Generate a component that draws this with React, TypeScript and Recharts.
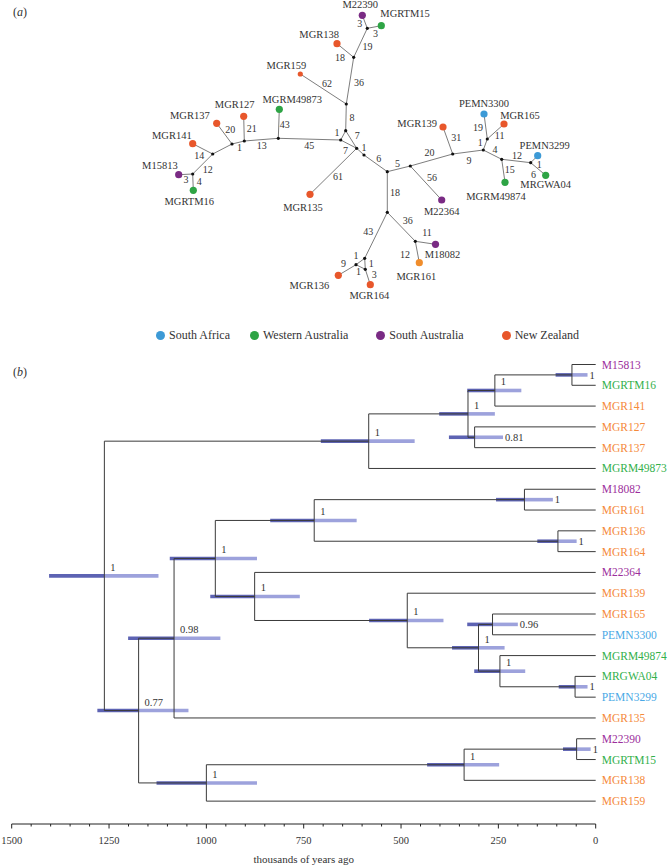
import React from 'react';
import { ScatterChart, Scatter, XAxis, YAxis, ReferenceLine, Legend } from 'recharts';

const SERIF = '"Liberation Serif", "Times New Roman", Times, "DejaVu Serif", serif';
const INK = '#333333';

const regionNames = ['South Africa', 'Western Australia', 'South Australia', 'New Zealand'];
const regionDot = ['#3d9ad6', '#2ea445', '#7a2b84', '#e8572b'];
const regionText = ['#4aa9e6', '#33b04b', '#9c2f9c', '#f58a3b'];

// ---------- (a) haplotype network (layout units of the original drawing) ----------
const haplotypes: [string, number, number, number][] = [
  ['M22390', 362.3, 15.3, 2],
  ['MGRTM15', 381.3, 25.7, 1],
  ['MGR138', 337, 43.7, 3],
  ['MGR159', 300.3, 74, 3],
  ['MGRM49873', 279.3, 109.3, 1],
  ['MGR127', 243.7, 116.3, 3],
  ['MGR137', 216.7, 123.3, 3],
  ['MGR141', 192.7, 143.7, 3],
  ['M15813', 178.7, 174.7, 2],
  ['MGRTM16', 193.3, 190.3, 1],
  ['MGR135', 310, 194.3, 3],
  ['M22364', 441.7, 200, 2],
  ['MGR139', 443, 127, 3],
  ['PEMN3300', 484, 114, 0],
  ['MGR165', 504, 124, 3],
  ['MGRM49874', 505, 182.3, 1],
  ['PEMN3299', 537.7, 155.7, 0],
  ['MRGWA04', 545.7, 175.3, 1],
  ['M18082', 435.5, 244.3, 2],
  ['MGR161', 419.3, 262.7, 3],
  ['MGR136', 338.3, 275.3, 3],
  ['MGR164', 370.3, 284.7, 3],
];

const junctions: [string, number, number][] = [
  ['J1', 367.3, 28.3], ['J2', 353.7, 57.3], ['J3', 346.3, 104], ['J4', 345.7, 130.7],
  ['J5', 340.7, 140], ['J6', 356.7, 148.3], ['J7', 364, 155], ['J8', 278.3, 138.3],
  ['J9', 244.3, 141], ['J10', 232, 144], ['J11', 212.7, 154], ['J12', 192.7, 174],
  ['J13', 387.3, 171.7], ['J14', 410.3, 166], ['J15', 452.7, 154], ['J16', 483.3, 150],
  ['J17', 487.3, 139], ['J18', 501.7, 159.3], ['J19', 530.7, 162.7], ['J20', 387.3, 212.3],
  ['J21', 415.3, 241.3], ['J22', 364.7, 258.3], ['J23', 356, 264.7], ['J24', 365.3, 269.3],
];

// [from, to, mutation steps]
const edges: [string, string, number | null][] = [
  ['M22390', 'J1', 3], ['MGRTM15', 'J1', 3], ['J1', 'J2', 19], ['MGR138', 'J2', 18],
  ['J2', 'J3', 36], ['MGR159', 'J3', 62], ['J3', 'J4', 8], ['J4', 'J5', 1],
  ['J4', 'J6', 7], ['J5', 'J6', 7], ['J6', 'J7', 1], ['J6', 'MGR135', 61],
  ['J5', 'J8', 45], ['J8', 'MGRM49873', 43], ['J8', 'J9', 13], ['J9', 'MGR127', 21],
  ['J9', 'J10', 1], ['J10', 'MGR137', 20], ['J10', 'J11', null], ['J11', 'MGR141', 14],
  ['J11', 'J12', 12], ['J12', 'M15813', 3], ['J12', 'MGRTM16', 4], ['J7', 'J13', 6],
  ['J13', 'J14', 5], ['J14', 'M22364', 56], ['J14', 'J15', 20], ['J15', 'MGR139', 31],
  ['J15', 'J16', 9], ['J16', 'J17', 1], ['J17', 'PEMN3300', 19], ['J17', 'MGR165', 11],
  ['J16', 'J18', 4], ['J18', 'MGRM49874', 15], ['J18', 'J19', 12], ['J19', 'PEMN3299', 1],
  ['J19', 'MRGWA04', 6], ['J13', 'J20', 18], ['J20', 'J21', 36], ['J21', 'M18082', 11],
  ['J21', 'MGR161', 12], ['J20', 'J22', 43], ['J22', 'J23', 1], ['J22', 'J24', 1],
  ['J23', 'J24', 1], ['J23', 'MGR136', 9], ['J24', 'MGR164', 3],
];

// style: signed perpendicular distance of each step label from its edge
const edgeLabelGap = [
  5.5, -6.5, -7.8, 8.6, -9.2, -6.6, -6, 6.9, -7.2, 7, -5.5, -6.8, -6.5, 5.9, -6.3, 7.7,
  -5.5, 7.3, 0, -7.6, -7.3, -5.6, -6.3, -5.5, -5.5, -8.1, -7.6, 9, 8.2, -5.5, -7.7, 6,
  -5.5, -6.5, -5.8, 7, 7.4, -7.7, -9.1, -10.8, 12.6, 8.6, 7.5, -6.2, 5, 7.3, -6.7,
];

// style: where each haplotype name sits relative to its dot [dx, dy, anchor]
const hapLabelPlace: Record<string, [number, number, 'start' | 'middle' | 'end']> = {
  M22390: [-2, -10.5, 'middle'], MGRTM15: [-1, -12, 'start'], MGR138: [2, -9.5, 'end'],
  MGR159: [6, -8.5, 'end'], MGRM49873: [13, -9.5, 'middle'], MGR127: [-9, -12, 'middle'],
  MGR137: [-7, -7.5, 'end'], MGR141: [-1, -8.5, 'end'], M15813: [-1, -9.5, 'end'],
  MGRTM16: [-4, 11.5, 'middle'], MGR135: [-7, 13.5, 'middle'], M22364: [0, 11, 'middle'],
  MGR139: [-6, -3.5, 'end'], PEMN3300: [0, -11, 'middle'], MGR165: [16, -9, 'middle'],
  MGRM49874: [-9, 14.5, 'middle'], PEMN3299: [7, -10.5, 'middle'], MRGWA04: [0, 9, 'middle'],
  M18082: [7, 10.5, 'middle'], MGR161: [-3, 13.5, 'middle'], MGR136: [-9, 10.5, 'end'],
  MGR164: [-1, 10.5, 'middle'],
};

const netPos: Record<string, { x: number; y: number }> = {};
haplotypes.forEach(([n, x, y]) => (netPos[n] = { x, y }));
junctions.forEach(([n, x, y]) => (netPos[n] = { x, y }));

const hapData = haplotypes.map(([name, x, y, region]) => ({ name, x, y, region }));
const junctionData = junctions.map(([name, x, y]) => ({ name, x, y }));
const edgeLabelData = edges
  .map(([a, b, steps], i) => {
    const p = netPos[a];
    const q = netPos[b];
    const dx = q.x - p.x;
    const dy = q.y - p.y;
    const len = Math.hypot(dx, dy);
    const g = edgeLabelGap[i];
    return { x: (p.x + q.x) / 2 + (-dy / len) * g, y: (p.y + q.y) / 2 + (dx / len) * g, label: steps };
  })
  .filter((d) => d.label !== null);

// ---------- (b) dated tree ----------
const tipNames = [
  'M15813', 'MGRTM16', 'MGR141', 'MGR127', 'MGR137', 'MGRM49873', 'M18082', 'MGR161',
  'MGR136', 'MGR164', 'M22364', 'MGR139', 'MGR165', 'PEMN3300', 'MGRM49874', 'MRGWA04',
  'PEMN3299', 'MGR135', 'M22390', 'MGRTM15', 'MGR138', 'MGR159',
];
const tipRegion = [2, 1, 3, 3, 3, 1, 2, 3, 3, 3, 2, 3, 3, 0, 1, 1, 0, 3, 2, 1, 3, 3];

const cladeIds = ['N0', 'N1', 'N2', 'N3', 'N4', 'N5', 'N12', 'N13', 'N14', 'N15', 'N16',
  'N17', 'N18', 'N19', 'N20', 'N21', 'N22', 'N23', 'N30', 'N31', 'N32'];
const cladeChildren = [
  ['N1', 'N12'], ['N2', 'MGRM49873'], ['N3', 'N5'], ['N4', 'MGR141'], ['M15813', 'MGRTM16'],
  ['MGR127', 'MGR137'], ['N13', 'N30'], ['N14', 'MGR135'], ['N15', 'N18'], ['N16', 'N17'],
  ['M18082', 'MGR161'], ['MGR136', 'MGR164'], ['M22364', 'N19'], ['MGR139', 'N20'],
  ['N21', 'N22'], ['MGR165', 'PEMN3300'], ['MGRM49874', 'N23'], ['MRGWA04', 'PEMN3299'],
  ['N31', 'MGR159'], ['N32', 'MGR138'], ['M22390', 'MGRTM15'],
];
const cladeAge = [1262, 583, 328, 259, 61, 311, 1174, 1083, 977, 723, 183, 97, 876, 484, 301, 265, 246, 53, 1000, 338, 49];
const cladeSupport = ['1', '1', '1', '1', '1', '0.81', '0.77', '0.98', '1', '1', '1', '1', '1', '1', '1', '0.96', '1', '1', '1', '1', '1'];
const hpdLow = [1123, 465, 259, 191, 21, 238, 1046, 964, 870, 614, 110, 49, 760, 391, 234, 200, 181, 21, 870, 248, 13];
const hpdHigh = [1404, 706, 402, 330, 103, 377, 1280, 1201, 1094, 836, 256, 150, 990, 582, 369, 330, 312, 95, 1128, 433, 84];

// style: clades whose support value is written at the young end of the bar
const supportBeside = ['N4', 'N5', 'N16', 'N17', 'N21', 'N23', 'N32'];

const axisTicks = Array.from({ length: 31 }, (_, i) => i * 50);

const rowOf: Record<string, number> = {};
tipNames.forEach((t, i) => (rowOf[t] = i));
const ageOf: Record<string, number> = {};
tipNames.forEach((t) => (ageOf[t] = 0));
cladeIds.forEach((c, i) => (ageOf[c] = cladeAge[i]));
const rowFor = (id: string): number => {
  if (rowOf[id] !== undefined) return rowOf[id];
  const kids = cladeChildren[cladeIds.indexOf(id)];
  rowOf[id] = (rowFor(kids[0]) + rowFor(kids[kids.length - 1])) / 2;
  return rowOf[id];
};

type Seg = [{ x: number; y: number }, { x: number; y: number }];
const branchSegs: Seg[] = [];
cladeIds.forEach((id, i) => {
  const kids = cladeChildren[i];
  const a = cladeAge[i];
  branchSegs.push([{ x: a, y: rowFor(kids[0]) }, { x: a, y: rowFor(kids[kids.length - 1]) }]);
  kids.forEach((k) => branchSegs.push([{ x: a, y: rowFor(k) }, { x: ageOf[k], y: rowFor(k) }]));
});
const hpdOld: Seg[] = cladeIds.map((id, i) => [{ x: hpdHigh[i], y: rowFor(id) }, { x: cladeAge[i], y: rowFor(id) }]);
const hpdYoung: Seg[] = cladeIds.map((id, i) => [{ x: cladeAge[i], y: rowFor(id) }, { x: hpdLow[i], y: rowFor(id) }]);

const supportData = cladeIds.map((id, i) => {
  const beside = supportBeside.includes(id);
  return { x: beside ? hpdLow[i] : cladeAge[i], y: rowFor(id), label: cladeSupport[i], beside };
});
const tipData = tipNames.map((name, i) => ({ x: 0, y: i, name, region: tipRegion[i] }));

// ---------- shapes ----------
const HapDot = (p: any) => (
  <circle
    cx={p.cx}
    cy={p.cy}
    r={p.payload.name === 'MGR159' ? 2.6 : 3.6}
    fill={p.payload.name === 'MGR161' ? '#f08d2c' : regionDot[p.payload.region]}
  />
);
const JunctionDot = (p: any) => <circle cx={p.cx} cy={p.cy} r={1.6} fill="#111" />;
const EdgeText = (p: any) => (
  <text x={p.cx} y={p.cy} dy="0.35em" textAnchor="middle" fontSize={10} fontFamily={SERIF} style={{ fill: INK }}>
    {p.payload.label}
  </text>
);
const HapText = (p: any) => {
  const [dx, dy, anchor] = hapLabelPlace[p.payload.name];
  return (
    <text x={p.cx + dx} y={p.cy + dy} dy="0.35em" textAnchor={anchor} fontSize={10.5} fontFamily={SERIF} style={{ fill: INK }}>
      {p.payload.name}
    </text>
  );
};
const SupportText = (p: any) =>
  p.payload.beside ? (
    <text x={p.cx + 2} y={p.cy} dy="0.35em" fontSize={10.5} fontFamily={SERIF} style={{ fill: INK }}>
      {p.payload.label}
    </text>
  ) : (
    <text x={p.cx + 6} y={p.cy - 5} fontSize={10.5} fontFamily={SERIF} style={{ fill: INK }}>
      {p.payload.label}
    </text>
  );
const TipText = (p: any) => (
  <text x={p.cx + 6} y={p.cy} dy="0.35em" fontSize={11.5} fontFamily={SERIF} style={{ fill: regionText[p.payload.region] }}>
    {p.payload.name}
  </text>
);
const AgeTick = (p: any) => {
  const major = p.payload.value % 250 === 0;
  return (
    <g>
      <line x1={p.x} y1={p.y} x2={p.x} y2={p.y + (major ? 4.5 : 2.5)} stroke="#222" />
      {major && (
        <text x={p.x} y={p.y + 20} textAnchor="middle" fontSize={10.5} fontFamily={SERIF} style={{ fill: INK }}>
          {p.payload.value}
        </text>
      )}
    </g>
  );
};

// legend keeps the region order of the figure, not the library's sorted order
const legendGap = [20, 28, 38, 0];
const renderLegend = () => (
  <div style={{ display: 'flex', alignItems: 'center', paddingLeft: 156, fontFamily: SERIF, fontSize: 12, color: INK }}>
    {regionNames.map((name, i) => (
      <div key={name} style={{ display: 'flex', alignItems: 'center', marginRight: legendGap[i] }}>
        <span style={{ display: 'inline-block', width: 9, height: 9, borderRadius: '50%', background: regionDot[i], marginRight: 4 }} />
        {name}
      </div>
    ))}
  </div>
);

export default function App() {
  return (
    <div style={{ position: 'absolute', left: 0, top: 0, width: 669, height: 866, background: '#fff', fontFamily: SERIF }}>
      <div style={{ position: 'absolute', left: 0, top: 0 }}>
        <ScatterChart width={669} height={360} margin={{ top: 0, right: 0, bottom: 0, left: 0 }}>
          <XAxis type="number" dataKey="x" domain={[0, 669]} hide />
          <YAxis type="number" dataKey="y" domain={[0, 360]} reversed hide />
          {edges.map(([a, b], i) => (
            <ReferenceLine
              key={`e${i}`}
              segment={[netPos[a], netPos[b]]}
              stroke="#6e6e6e"
              strokeWidth={0.9}
              ifOverflow="visible"
            />
          ))}
          {regionNames.map((r, i) => (
            <Scatter
              key={r}
              name={r}
              data={hapData.filter((h) => h.region === i)}
              fill={regionDot[i]}
              shape={HapDot}
              isAnimationActive={false}
            />
          ))}
          <Scatter data={junctionData} legendType="none" shape={JunctionDot} isAnimationActive={false} />
          <Scatter data={edgeLabelData} legendType="none" shape={EdgeText} isAnimationActive={false} />
          <Scatter data={hapData} legendType="none" shape={HapText} isAnimationActive={false} />
          <Legend
            layout="horizontal"
            verticalAlign="middle"
            align="center"
            wrapperStyle={{ left: 0, top: 328, width: 669 }}
            content={renderLegend}
          />
        </ScatterChart>
      </div>

      <div style={{ position: 'absolute', left: 0, top: 360 }}>
        <ScatterChart width={669} height={506} margin={{ top: 4.5, right: 73.3, bottom: 2, left: 11.7 }}>
          <XAxis
            type="number"
            dataKey="x"
            domain={[0, 1500]}
            reversed
            ticks={axisTicks}
            interval={0}
            height={40}
            tickLine={false}
            tickSize={0}
            tickMargin={0}
            tick={AgeTick}
            axisLine={{ stroke: '#222' }}
            label={{ value: 'thousands of years ago', position: 'insideBottom', offset: 1, fill: INK, fontSize: 11, fontFamily: SERIF }}
          />
          <YAxis type="number" dataKey="y" domain={[0, 22.1]} reversed hide />
          {hpdOld.map((s, i) => (
            <ReferenceLine key={`ho${i}`} segment={s} stroke="#5d63b3" strokeWidth={3.6} ifOverflow="visible" />
          ))}
          {hpdYoung.map((s, i) => (
            <ReferenceLine key={`hy${i}`} segment={s} stroke="#9da2dc" strokeWidth={3.6} ifOverflow="visible" />
          ))}
          {branchSegs.map((s, i) => (
            <ReferenceLine key={`b${i}`} segment={s} stroke="#3a3a3a" strokeWidth={1} ifOverflow="visible" />
          ))}
          <Scatter data={supportData} legendType="none" shape={SupportText} isAnimationActive={false} />
          <Scatter data={tipData} legendType="none" shape={TipText} isAnimationActive={false} />
        </ScatterChart>
      </div>

      <div style={{ position: 'absolute', left: 13, top: 5, fontSize: 12, color: INK, lineHeight: '14px' }}>
        (<i>a</i>)
      </div>
      <div style={{ position: 'absolute', left: 13, top: 365, fontSize: 12, color: INK, lineHeight: '14px' }}>
        (<i>b</i>)
      </div>
    </div>
  );
}
